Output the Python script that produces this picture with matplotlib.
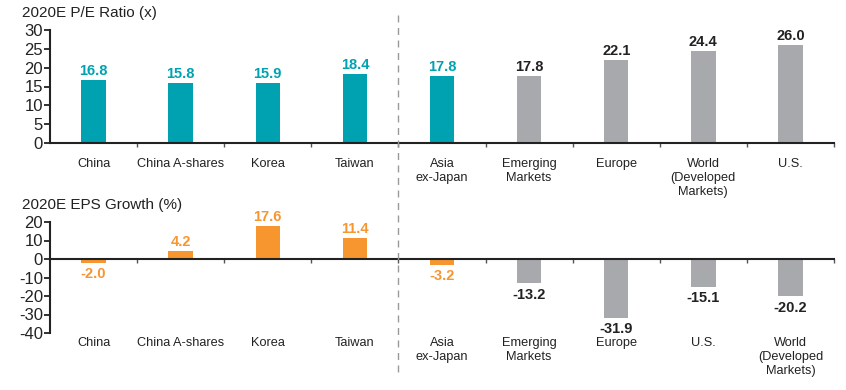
import matplotlib
matplotlib.use("Agg")
import matplotlib.pyplot as plt
from matplotlib import font_manager
from matplotlib.lines import Line2D
from matplotlib.transforms import blended_transform_factory

pe_categories = ["China", "China A-shares", "Korea", "Taiwan", "Asia\nex-Japan",
                 "Emerging\nMarkets", "Europe", "World\n(Developed\nMarkets)", "U.S."]
pe_values = [16.8, 15.8, 15.9, 18.4, 17.8, 17.8, 22.1, 24.4, 26.0]

eps_categories = ["China", "China A-shares", "Korea", "Taiwan", "Asia\nex-Japan",
                  "Emerging\nMarkets", "Europe", "U.S.", "World\n(Developed\nMarkets)"]
eps_values = [-2.0, 4.2, 17.6, 11.4, -3.2, -13.2, -31.9, -15.1, -20.2]

pe_ticks = [0, 5, 10, 15, 20, 25, 30]
eps_ticks = [-40, -30, -20, -10, 0, 10, 20]

n_asia = 5  # first five categories highlighted

TEAL = "#00A2B1"
ORANGE = "#F7962F"
GRAY = "#A7A9AC"
DARK = "#222222"

names = {f.name for f in font_manager.fontManager.ttflist}
base_font = "Liberation Sans" if "Liberation Sans" in names else "DejaVu Sans"
plt.rcParams["font.family"] = [base_font, "DejaVu Sans"]

fig = plt.figure(figsize=(8.46, 3.9), dpi=100)
W, H = 846, 390

def fx(px):
    return px / W

def fy(py):
    return 1 - py / H

ax1 = fig.add_axes([fx(50), fy(143), fx(834) - fx(50), fy(30) - fy(143)])
ax2 = fig.add_axes([fx(50), fy(333), fx(834) - fx(50), fy(222) - fy(333)])

bw = 0.28

def style(ax, ticks, ylim):
    ax.set_xlim(-0.5, len(pe_values) - 0.5)
    ax.set_ylim(*ylim)
    ax.set_yticks(ticks)
    ax.set_yticklabels([str(t) for t in ticks], fontsize=12, color=DARK)
    ax.tick_params(axis="y", length=4, width=1.3, color=DARK, pad=1)
    for s in ["top", "right"]:
        ax.spines[s].set_visible(False)
    ax.spines["left"].set_color(DARK)
    ax.spines["left"].set_linewidth(1.5)
    ax.spines["bottom"].set_position(("data", 0))
    ax.spines["bottom"].set_color(DARK)
    ax.spines["bottom"].set_linewidth(1.5)
    ax.set_xticks([i + 0.5 for i in range(len(pe_values))])
    ax.set_xticklabels([])
    ax.tick_params(axis="x", length=3, width=1.0, color="#555555", direction="out")
    ax.set_facecolor("none")

# Top panel
colors1 = [TEAL if i < n_asia else GRAY for i in range(len(pe_values))]
ax1.bar(range(len(pe_values)), pe_values, width=bw, color=colors1, zorder=2)
style(ax1, pe_ticks, (0, 30))
for i, v in enumerate(pe_values):
    ax1.annotate(f"{v:.1f}", (i, v), xytext=(0, 1.5), textcoords="offset points",
                 ha="center", va="bottom", fontsize=10.5, fontweight="bold",
                 color=TEAL if i < n_asia else DARK)
tr1 = blended_transform_factory(ax1.transData, ax1.transAxes)
for i, c in enumerate(pe_categories):
    ax1.text(i, -15 / 113, c, transform=tr1, ha="center", va="top", fontsize=9.2,
             color=DARK, linespacing=1.2)
fig.text(fx(22), fy(13), "2020E P/E Ratio (x)", fontsize=11, color=DARK,
         ha="left", va="center")

# Bottom panel
colors2 = [ORANGE if i < n_asia else GRAY for i in range(len(eps_values))]
ax2.bar(range(len(eps_values)), eps_values, width=bw, color=colors2, zorder=2)
style(ax2, eps_ticks, (-40, 20))
for i, v in enumerate(eps_values):
    off = 1.5 if v >= 0 else -3
    ax2.annotate(f"{v:.1f}", (i, v), xytext=(0, off), textcoords="offset points",
                 ha="center", va="bottom" if v >= 0 else "top", fontsize=10.5,
                 fontweight="bold", color=ORANGE if i < n_asia else DARK)
tr2 = blended_transform_factory(ax2.transData, ax2.transAxes)
for i, c in enumerate(eps_categories):
    ax2.text(i, -4 / 111, c, transform=tr2, ha="center", va="top", fontsize=9.2,
             color=DARK, linespacing=1.2)
fig.text(fx(22), fy(205), "2020E EPS Growth (%)", fontsize=11, color=DARK,
         ha="left", va="center")

# Dashed divider
fig.add_artist(Line2D([fx(398), fx(398)], [fy(15), fy(373)], transform=fig.transFigure,
                      color="#999999", linewidth=1.0, linestyle=(0, (5, 4))))

fig.savefig("out.png", dpi=100)
